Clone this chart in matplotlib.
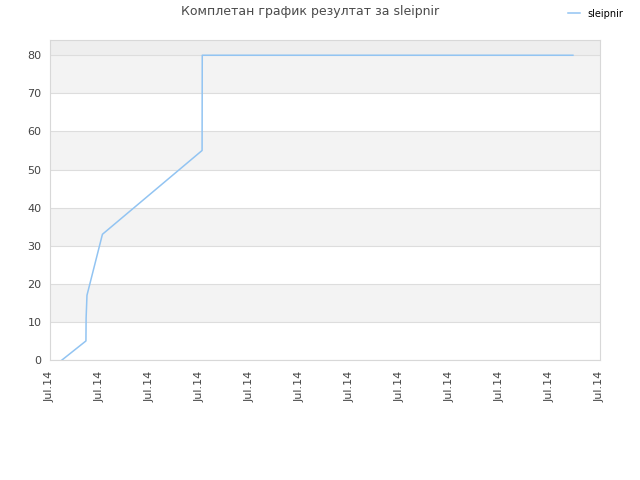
import datetime
import matplotlib
matplotlib.use("Agg")
import matplotlib.pyplot as plt
import matplotlib.dates as mdates

# data
times = [
    datetime.datetime(2014, 7, 1, 5, 45),
    datetime.datetime(2014, 7, 1, 17, 15),
    datetime.datetime(2014, 7, 1, 17, 20),
    datetime.datetime(2014, 7, 1, 17, 45),
    datetime.datetime(2014, 7, 2, 1, 10),
    datetime.datetime(2014, 7, 4, 1, 0),
    datetime.datetime(2014, 7, 4, 1, 5),
    datetime.datetime(2014, 7, 7, 15, 50),
    datetime.datetime(2014, 7, 11, 11, 0),
]
scores = [0, 5, 11, 17, 33, 55, 80, 80, 80]
player = "sleipnir"

x_start = datetime.datetime(2014, 7, 1)
x_end = datetime.datetime(2014, 7, 12)

fig = plt.figure(figsize=(6.4, 4.8), dpi=100)
ax = fig.add_axes([50 / 640, 120 / 480, 550 / 640, 320 / 480])

# alternating bands
ax.axhspan(80, 84, color="#eeeeee", zorder=0, lw=0)
for lo in range(10, 80, 20):
    ax.axhspan(lo, lo + 10, color="#f3f3f3", zorder=0, lw=0)
for y in range(0, 90, 10):
    ax.axhline(y, color="#dddddd", lw=0.8, zorder=1)

ax.plot(times, scores, color="#92c4f2", lw=1.1, zorder=3, label=player)

ax.set_xlim(x_start, x_end)
ax.set_ylim(0, 84)
ax.set_yticks(range(0, 90, 10))
ax.xaxis.set_major_locator(mdates.DayLocator())
ax.xaxis.set_major_formatter(mdates.DateFormatter("%b.%y"))
plt.setp(ax.get_xticklabels(), rotation=90)
ax.tick_params(axis="both", length=0, labelsize=8, colors="#444444", pad=6)
ax.tick_params(axis="x", pad=8)
for s in ax.spines.values():
    s.set_color("#d8d8d8")

fig.text(310 / 640, 1 - 12 / 480, "Комплетан график резултат за sleipnir",
         ha="center", va="center", fontsize=9, color="#4a4a4a")
fig.legend(loc="upper right", bbox_to_anchor=(632 / 640, 1.0), frameon=False,
           fontsize=7, handlelength=1.2, handletextpad=0.8)

fig.savefig("out.png", dpi=100)
